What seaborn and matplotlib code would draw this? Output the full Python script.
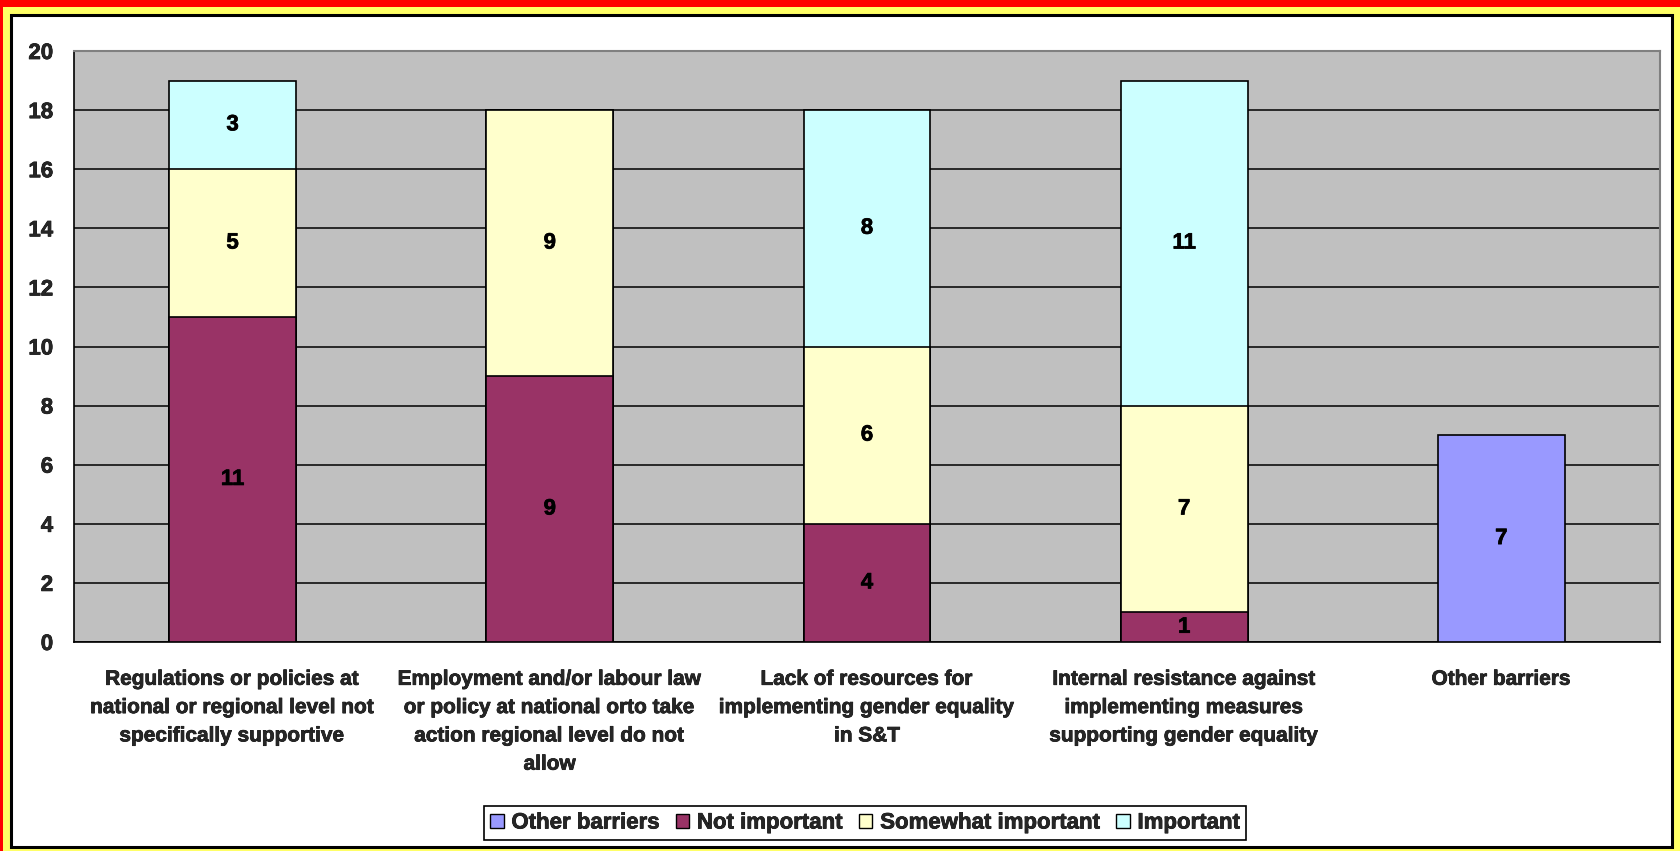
import matplotlib
matplotlib.use("Agg")
import matplotlib.pyplot as plt
import matplotlib.patheffects as pe
from matplotlib.patches import Rectangle, Patch
import numpy as np
import pandas as pd
import seaborn as sns

categories = [
    "Regulations or policies at\nnational or regional level not\nspecifically supportive",
    "Employment and/or labour law\nor policy at national orto take\naction regional level do not\nallow",
    "Lack of resources for\nimplementing gender equality\nin S&T",
    "Internal resistance against\nimplementing measures\nsupporting gender equality",
    "Other barriers",
]
other_barriers = [0, 0, 0, 0, 7]
not_important = [11, 9, 4, 1, 0]
somewhat_important = [5, 9, 6, 7, 0]
important = [3, 0, 8, 11, 0]

series_names = ["Other barriers", "Not important", "Somewhat important", "Important"]
colors = {
    "Other barriers": "#9999FF",
    "Not important": "#993366",
    "Somewhat important": "#FFFFCC",
    "Important": "#CCFFFF",
}

sns.set_style("white")
plt.rcParams["font.family"] = ["Liberation Sans", "DejaVu Sans"]
plt.rcParams["font.weight"] = "bold"

# slightly heavier text strokes
heavy = [pe.withStroke(linewidth=0.5, foreground="black")]

W, H = 1681, 851
fig = plt.figure(figsize=(W / 100, H / 100), dpi=100, facecolor="#FFFF66")

# decorative frame: red band top/left, yellow margin, black-edged white panel
fig.patches.append(Rectangle((0, 1 - 7 / H), 1, 7 / H, transform=fig.transFigure,
                             facecolor="#FF0000", edgecolor="none", zorder=-3))
fig.patches.append(Rectangle((0, 0), 3 / W, 1, transform=fig.transFigure,
                             facecolor="#FF0000", edgecolor="none", zorder=-3))
fig.patches.append(Rectangle((11 / W, 1 - 846.5 / H), (1672.5 - 11) / W, (846.5 - 14.5) / H,
                             transform=fig.transFigure, facecolor="white",
                             edgecolor="black", linewidth=2.2, zorder=-2))

ax = fig.add_axes([74 / W, 1 - 642 / H, (1660 - 74) / W, (642 - 51) / H])
ax.set_facecolor("#C0C0C0")

df = pd.DataFrame({
    "category": categories,
    "Other barriers": other_barriers,
    "Not important": not_important,
    "Somewhat important": somewhat_important,
    "Important": important,
})
df["cum_not"] = df["Not important"]
df["cum_some"] = df["cum_not"] + df["Somewhat important"]
df["cum_imp"] = df["cum_some"] + df["Important"]

bar_w = 0.4
# stacked segments drawn as overlapping cumulative bars, tallest first
layers = [("cum_imp", "Important"), ("cum_some", "Somewhat important"),
          ("cum_not", "Not important"), ("Other barriers", "Other barriers")]
for col, name in layers:
    heights = df[col].where(df[col] > 0, np.nan).to_numpy()
    sns.barplot(x=categories, y=heights, order=categories,
                color=colors[name], saturation=1, width=bar_w, edgecolor="black",
                linewidth=1.2, ax=ax, zorder=3)

# value labels centred in each segment
for i in range(len(categories)):
    base = 0
    for name in ["Not important", "Somewhat important", "Important"]:
        v = df.loc[i, name]
        if v > 0:
            ax.text(i, base + v / 2, f"{v}", ha="center", va="center", path_effects=heavy,
                    fontsize=16, fontweight="bold", color="black", zorder=5)
        base += v
    v = df.loc[i, "Other barriers"]
    if v > 0:
        ax.text(i, v / 2, f"{v}", ha="center", va="center", path_effects=heavy,
                fontsize=16, fontweight="bold", color="black", zorder=5)

ax.set_ylim(0, 20)
ax.set_xlim(-0.5, len(categories) - 0.5)
ax.set_yticks(np.arange(0, 21, 2))
ax.yaxis.grid(True, color="black", linewidth=1.1, zorder=1)
ax.set_axisbelow(True)
ax.set_xlabel("")
ax.set_ylabel("")

ax.set_xticks(range(len(categories)))
ax.set_xticklabels(categories, fontsize=15, fontweight="bold", linespacing=1.62)
ax.set_xticks(np.arange(-0.5, len(categories), 1.0), minor=True)
ax.tick_params(axis="x", which="major", length=0, pad=20)
ax.tick_params(axis="x", which="minor", length=5, width=1.1, color="black", direction="out")
ax.tick_params(axis="y", length=5, width=1.1, color="black", direction="out", pad=10,
               labelsize=16)
for lab in ax.get_yticklabels() + ax.get_xticklabels():
    lab.set_fontweight("bold")
    lab.set_path_effects(heavy)

for side in ["left", "bottom"]:
    ax.spines[side].set_color("black")
    ax.spines[side].set_linewidth(1.2)
for side in ["top", "right"]:
    ax.spines[side].set_color("#808080")
    ax.spines[side].set_linewidth(1.5)

handles = [Patch(facecolor=colors[n], edgecolor="black", linewidth=1.0, label=n) for n in series_names]
leg = fig.legend(handles=handles, loc="center", bbox_to_anchor=(865 / W, 1 - 823 / H),
                 ncol=4, frameon=True, fancybox=False, edgecolor="black", framealpha=1,
                 prop={"size": 16, "weight": "bold"}, handlelength=0.6, handleheight=0.6,
                 handletextpad=0.35, columnspacing=0.75, borderpad=0.3, borderaxespad=0)
leg.get_frame().set_linewidth(1.2)
for t in leg.get_texts():
    t.set_path_effects(heavy)

fig.savefig("out.png", dpi=100, facecolor=fig.get_facecolor())
